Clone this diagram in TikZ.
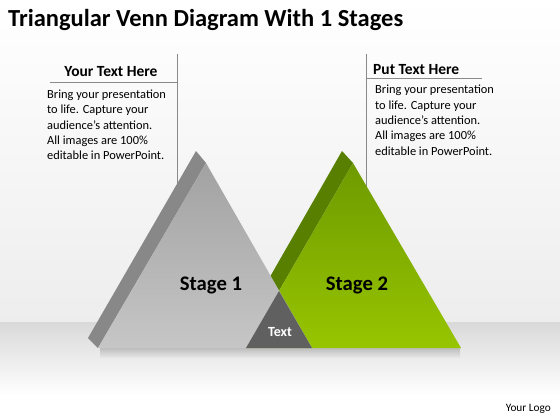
\documentclass[tikz,border=0pt]{standalone}
\usepackage{fontspec}
\setmainfont{Carlito}
\usetikzlibrary{positioning}

\definecolor{graytop}{HTML}{A2A2A2}
\definecolor{graybot}{HTML}{C6C6C6}
\definecolor{grayside}{HTML}{888888}
\definecolor{greentop}{HTML}{6E9A00}
\definecolor{greenbot}{HTML}{97C500}
\definecolor{greenside}{HTML}{587F00}
\definecolor{midgray}{HTML}{606060}
\definecolor{poleline}{HTML}{8A8A8A}

\tikzset{
  headtxt/.style={font=\fontsize{15.5}{18}\selectfont\bfseries, inner sep=0pt},
  bodytxt/.style={font=\fontsize{12.4}{15.4}\selectfont, align=left, inner sep=0pt},
  stagetxt/.style={font=\fontsize{20.7}{24}\selectfont\bfseries, inner sep=0pt},
  pole/.style={draw=poleline, line width=0.8pt}
}

\begin{document}
\begin{tikzpicture}[x=1pt,y=-1pt]
\useasboundingbox (0,0) rectangle (560,420);

% background: wall and floor
\shade[top color=white, bottom color=black!7] (0,0) rectangle (560,322);
\shade[top color=black!15, bottom color=white] (0,322) rectangle (560,395);
\fill[white] (0,395) rectangle (560,420);

% title
\node[anchor=base west, inner sep=0pt, font=\fontsize{24.5}{28}\selectfont\bfseries] (title) at (8,27)
  {Triangular Venn Diagram With 1 Stages};

% left callout
\coordinate (lpole) at (177,54);
\coordinate (lfoot) at (177,195);
\draw[pole] (lpole) -- (lfoot);
\node[headtxt, anchor=base] (lhead) at (111,77) {Your Text Here};
\coordinate (lrule) at (50,82);
\draw[pole] (lrule) -- (lrule -| lpole);
\node[bodytxt, anchor=north west] (lbody) at (47,89.5)
  {Bring your presentation\\to life. Capture your\\audience’s attention.\\All images are 100\%\\editable in PowerPoint.};

% right callout
\coordinate (rpole) at (366,54);
\coordinate (rfoot) at (366,195);
\draw[pole] (rpole) -- (rfoot);
\node[headtxt, anchor=base west] (rhead) at (373,75) {Put Text Here};
\coordinate (rrule) at (482,78);
\draw[pole] (rrule -| rpole) -- (rrule);
\node[bodytxt, anchor=north west] (rbody) at (375,85)
  {Bring your presentation\\to life. Capture your\\audience’s attention.\\All images are 100\%\\editable in PowerPoint.};

% shadow under the triangles
\shade[top color=black!26, bottom color=black!10] (100,348) rectangle (460,357);

% green triangle
\fill[greenside] (342,151) -- (353,163) -- (246,348) -- (235,338) -- cycle;
\shade[top color=greentop, bottom color=greenbot] (353,163) -- (461,348) -- (246,348) -- cycle;

% gray triangle
\fill[grayside] (196,151) -- (206,163) -- (98,348) -- (88,338) -- cycle;
\shade[top color=graytop, bottom color=graybot] (206,163) -- (312,348) -- (98,348) -- cycle;

% overlap
\fill[midgray] (279,291) -- (312,348) -- (246,348) -- cycle;

% labels
\node[stagetxt, anchor=base] (stage1) at (211,290) {Stage 1};
\node[stagetxt, anchor=base] (stage2) at (357,290) {Stage 2};
\node[anchor=base, inner sep=0pt, text=white, font=\fontsize{14}{16}\selectfont\bfseries] (mid) at (280,336) {Text};
\node[anchor=base east, inner sep=0pt, font=\fontsize{11.3}{13}\selectfont] (logo) at (551,411) {Your Logo};

\end{tikzpicture}
\end{document}
